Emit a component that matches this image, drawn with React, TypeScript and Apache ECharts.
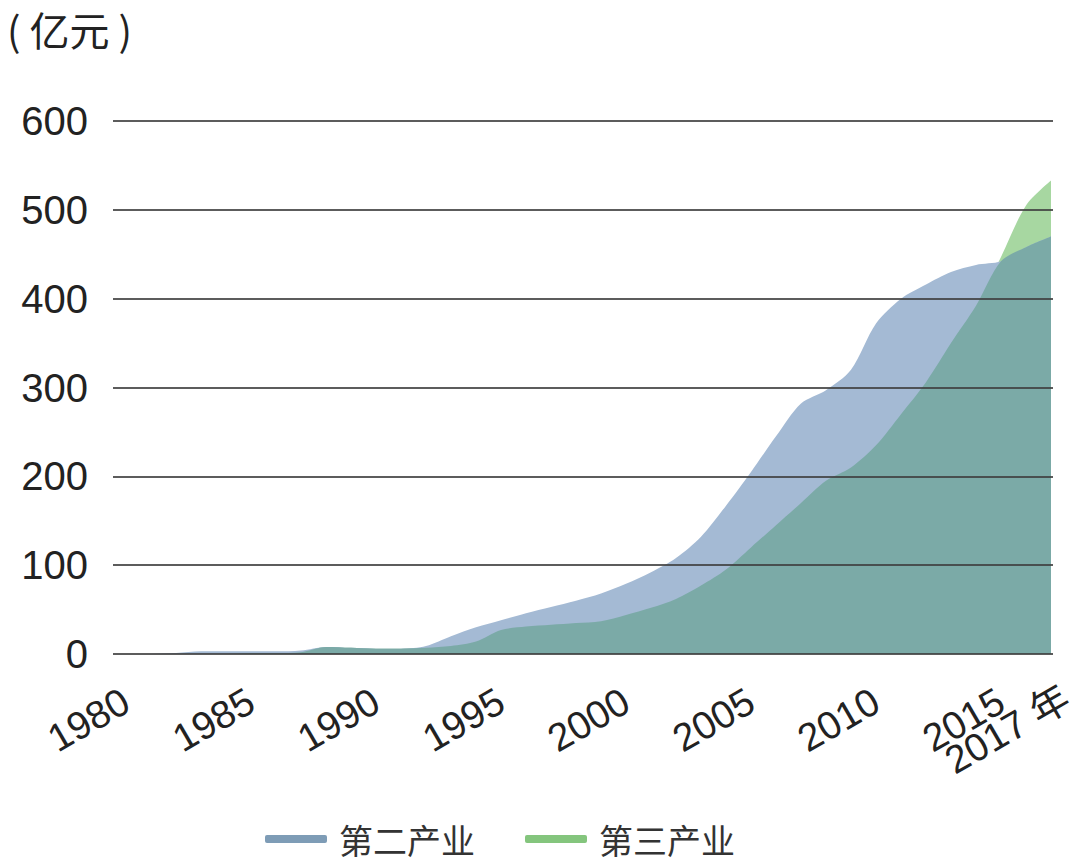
import React, { useEffect, useRef } from "react";
import * as echarts from "echarts";

const years = [
  1980, 1981, 1982, 1983, 1984, 1985, 1986, 1987, 1988, 1989,
  1990, 1991, 1992, 1993, 1994, 1995, 1996, 1997, 1998, 1999,
  2000, 2001, 2002, 2003, 2004, 2005, 2006, 2007, 2008, 2009,
  2010, 2011, 2012, 2013, 2014, 2015, 2016, 2017,
];
// 第二产业
const secondary = [
  0, 0, 1, 3, 3, 3, 3, 4, 8, 7,
  6, 6, 9, 20, 30, 38, 46, 53, 60, 68,
  79, 92, 108, 132, 167, 205, 245, 282, 297, 320,
  372, 400, 416, 430, 438, 442, 458, 470,
];
// 第三产业
const tertiary = [
  0, 0, 0, 0, 0, 1, 1, 2, 8, 7,
  6, 6, 7, 9, 14, 27, 31, 33, 35, 37,
  44, 52, 62, 77, 95, 120, 145, 170, 195, 210,
  235, 270, 306, 350, 392, 447, 505, 533,
];
const xTickLabels = [1980, 1985, 1990, 1995, 2000, 2005, 2010, 2015];
const xLastLabel = [2017];
const yTicks = [0, 100, 200, 300, 400, 500, 600];

const NUM_FONT = "'Liberation Sans', Arial, 'Noto Sans CJK SC', sans-serif";
const CJK_FONT = "'Noto Sans CJK SC', sans-serif";

export default function App() {
  const ref = useRef<HTMLDivElement>(null);
  useEffect(() => {
    if (!ref.current) return;
    const chart = echarts.init(ref.current, null, { renderer: "svg" });
    const s2 = years.map((y, i) => [y, secondary[i]]);
    const s3 = years.map((y, i) => [y, tertiary[i]]);
    const overlap = years.map((y, i) => [y, Math.min(secondary[i], tertiary[i])]);
    const smooth = 0.3;
    const xMin = 1979.48;
    const xMax = 2017.08;
    const labelBase = {
      rotate: 30,
      fontSize: 39,
      fontFamily: NUM_FONT,
      color: "#222",
      showMinLabel: true,
      showMaxLabel: true,
      hideOverlap: false,
    };
    chart.setOption({
      animation: false,
      backgroundColor: "#ffffff",
      title: {
        text: "( 亿元 )",
        left: 2,
        top: 2,
        textStyle: { fontSize: 40, fontWeight: "normal", fontFamily: CJK_FONT, color: "#222", lineHeight: 44 },
      },
      legend: {
        left: 260,
        top: 815,
        icon: "roundRect",
        itemWidth: 62,
        itemHeight: 8,
        itemGap: 50,
        textStyle: { fontSize: 34, lineHeight: 38, fontFamily: CJK_FONT, color: "#333", padding: [0, 0, 0, 7] },
        data: [
          { name: "第二产业", itemStyle: { color: "#7E9CB6" } },
          { name: "第三产业", itemStyle: { color: "#84C57D" } },
        ],
      },
      grid: { left: 113, right: 27, top: 121, bottom: 210, outerBoundsMode: "none" },
      xAxis: [
        {
          type: "value",
          min: xMin,
          max: xMax,
          axisLine: { show: false },
          axisTick: { show: false },
          splitLine: { show: false },
          axisLabel: {
            ...labelBase,
            customValues: xTickLabels,
            margin: 44,
            formatter: (v: number) => String(v),
          },
        },
        {
          type: "value",
          position: "bottom",
          min: xMin,
          max: xMax,
          axisLine: { show: false },
          axisTick: { show: false },
          splitLine: { show: false },
          axisLabel: {
            ...labelBase,
            customValues: xLastLabel,
            margin: 50,
            padding: [0, -18, 0, 0],
            formatter: (v: number) => `${v} 年`,
          },
        },
      ],
      yAxis: {
        type: "value",
        min: 0,
        max: 600,
        interval: 100,
        axisLine: { show: false },
        axisTick: { show: false },
        splitLine: { show: false },
        axisLabel: { margin: 25, fontSize: 40, fontFamily: NUM_FONT, color: "#222" },
      },
      series: [
        {
          name: "第三产业",
          type: "line",
          data: s3,
          smooth,
          showSymbol: false,
          itemStyle: { color: "#84C57D" },
          lineStyle: { width: 0 },
          areaStyle: { color: "#A7D7A1", opacity: 1 },
          z: 2,
        },
        {
          name: "第二产业",
          type: "line",
          data: s2,
          smooth,
          showSymbol: false,
          itemStyle: { color: "#7E9CB6" },
          lineStyle: { width: 0 },
          areaStyle: { color: "#A4BAD4", opacity: 1 },
          z: 3,
        },
        {
          name: "overlap",
          type: "line",
          data: overlap,
          smooth,
          showSymbol: false,
          itemStyle: { color: "#7BAAA7" },
          lineStyle: { width: 0 },
          areaStyle: { color: "#7BAAA7", opacity: 1 },
          z: 4,
          markLine: {
            silent: true,
            symbol: ["none", "none"],
            label: { show: false },
            lineStyle: { color: "#3f3f3f", width: 2.2, type: "solid", opacity: 0.85 },
            data: yTicks.map((v) => ({ yAxis: v })),
          },
        },
      ],
    });
    return () => chart.dispose();
  }, []);
  return (
    <div
      ref={ref}
      style={{ position: "fixed", left: 0, top: 0, width: 1080, height: 864, background: "#fff" }}
    />
  );
}
